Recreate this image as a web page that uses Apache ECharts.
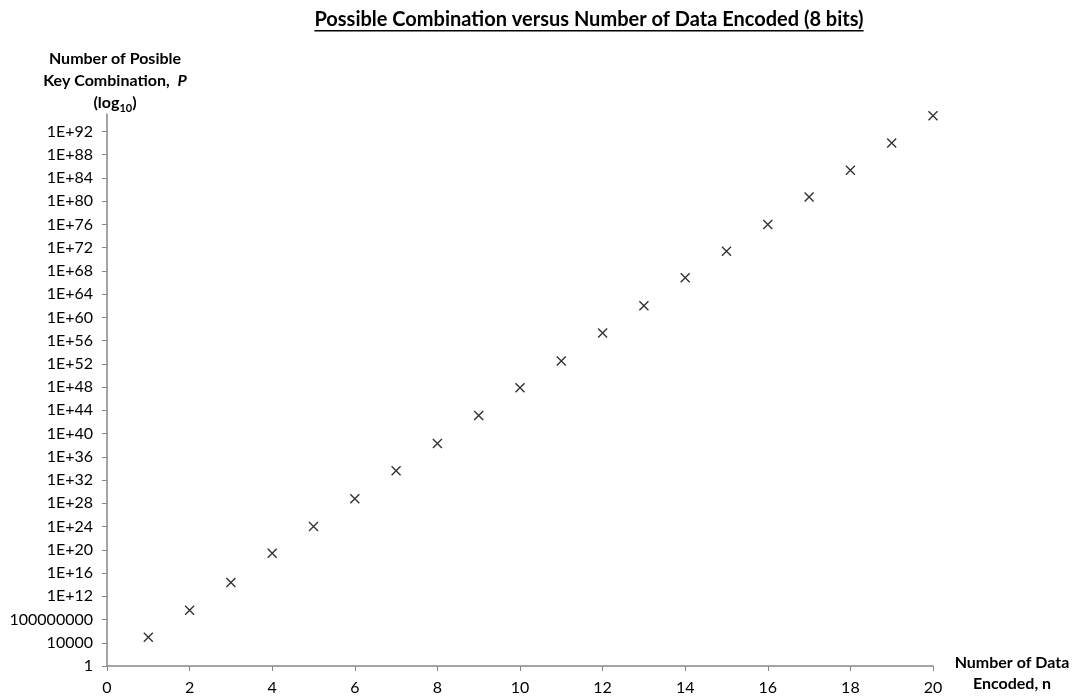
<!DOCTYPE html>
<html>
<head>
<meta charset="utf-8">
<script src="https://cdn.jsdelivr.net/npm/echarts@6/dist/echarts.min.js"></script>
<style>
  html, body { margin: 0; padding: 0; background: #fff; }
  #chart { width: 1078px; height: 697px; }
</style>
</head>
<body>
<div id="chart"></div>
<script>
// Number of data items encoded (x) and possible key combinations P (y, log scale)
const dataEncoded = [1, 2, 3, 4, 5, 6, 7, 8, 9, 10, 11, 12, 13, 14, 15, 16, 17, 18, 19, 20];
const keyCombinations = [
  8.5e4, 4.1e9, 2.3e14, 2.5e19, 1.0e24, 6.3e28, 4.0e33, 2.0e38, 1.3e43, 7.9e47,
  3.2e52, 2.0e57, 1.0e62, 6.3e66, 2.5e71, 1.0e76, 5.0e80, 2.0e85, 1.0e90, 5.0e94
];

const titleText = 'Possible Combination versus Number of Data Encoded (8 bits)';
const FONT = 'Lato, "Open Sans", "DejaVu Sans", sans-serif';

// Excel-style labels: plain numbers up to 1E8, scientific notation above
function logLabel(v) {
  const e = Math.round(Math.log10(v));
  return e <= 8 ? String(Math.pow(10, e)) : '1E+' + e;
}

// width of the title text, used for the underline
function textWidth(str, font) {
  const ctx = document.createElement('canvas').getContext('2d');
  ctx.font = font;
  return ctx.measureText(str).width;
}

const chart = echarts.init(document.getElementById('chart'), null, { renderer: 'canvas' });
const titleFont = 'bold 20px ' + FONT;
const tw = textWidth(titleText, titleFont);
const titleCx = 589;

chart.setOption({
  animation: false,
  backgroundColor: '#ffffff',
  grid: { left: 107, right: 145, top: 114, bottom: 31, containLabel: false },
  xAxis: {
    type: 'value',
    min: 0,
    max: 20,
    interval: 2,
    axisLine: { show: true, lineStyle: { color: '#868686', width: 1.5 } },
    axisTick: { show: true, inside: false, length: 5, lineStyle: { color: '#868686', width: 1 } },
    axisLabel: { color: '#000', fontFamily: FONT, fontSize: 16, margin: 14 },
    splitLine: { show: false }
  },
  yAxis: {
    type: 'log',
    logBase: 10,
    min: 1,
    max: 1e95,
    interval: 4,
    axisLine: { show: true, lineStyle: { color: '#868686', width: 1.5 } },
    axisTick: { show: true, inside: false, length: 5, lineStyle: { color: '#868686', width: 1 } },
    axisLabel: {
      color: '#000', fontFamily: FONT, fontSize: 16, margin: 14,
      showMaxLabel: false,
      formatter: logLabel
    },
    splitLine: { show: false }
  },
  graphic: [
    {
      type: 'text', x: titleCx, y: 20,
      style: { text: titleText, font: titleFont, fill: '#000', align: 'center', verticalAlign: 'middle' }
    },
    {
      type: 'rect', x: titleCx - tw / 2, y: 30,
      shape: { width: tw, height: 1.5 },
      style: { fill: '#000' }
    },
    {
      type: 'text', x: 115, y: 48,
      style: {
        text: '{b|Number of Posible}\n{b|Key Combination,  }{i|P}\n{b|(log}{s|10}{b|)}',
        align: 'center',
        verticalAlign: 'top',
        rich: {
          b: { font: 'bold 16px ' + FONT, fill: '#000', lineHeight: 22 },
          i: { font: 'italic bold 16px ' + FONT, fill: '#000', lineHeight: 22 },
          s: { font: 'bold 11px ' + FONT, fill: '#000', lineHeight: 22, verticalAlign: 'bottom', padding: [7, 0, 0, 0] }
        }
      }
    },
    {
      type: 'text', x: 1012, y: 652,
      style: {
        text: 'Number of Data\nEncoded, n',
        font: 'bold 16px ' + FONT,
        fill: '#000',
        align: 'center',
        verticalAlign: 'top',
        lineHeight: 21
      }
    }
  ],
  series: [{
    type: 'scatter',
    data: dataEncoded.map((n, i) => [n, keyCombinations[i]]),
    symbol: 'path://M0,0L10,10M10,0L0,10',
    symbolSize: 9,
    itemStyle: { color: 'rgba(0,0,0,0)', borderColor: '#000', borderWidth: 1.4 }
  }]
});
</script>
</body>
</html>
